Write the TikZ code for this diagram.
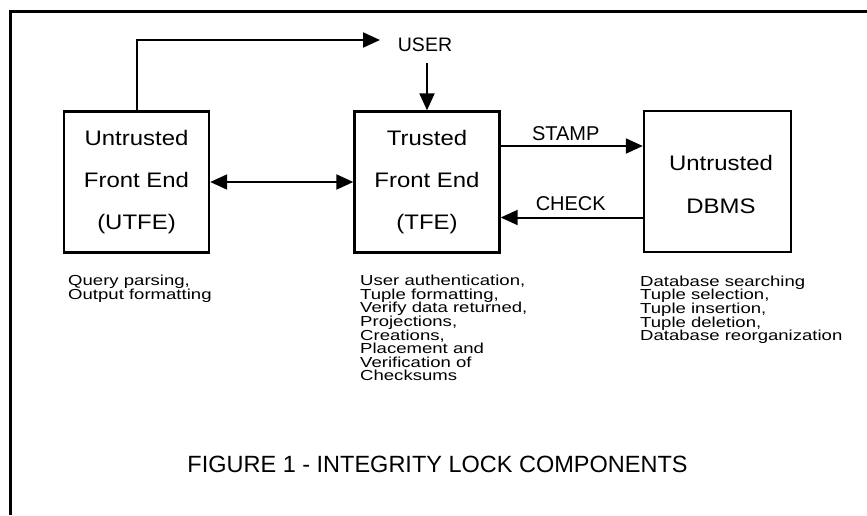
\documentclass[tikz,border=0pt]{standalone}
\usepackage{fontspec}
\setmainfont{Liberation Sans}
\newfontfamily\boxfont[FakeStretch=1.14]{Liberation Sans}
\newfontfamily\notefont[FakeStretch=1.28]{Liberation Sans}
\usetikzlibrary{arrows.meta}
\lineskiplimit=-100pt
\tikzset{
  blk/.style={draw=black, line width=2.4pt, minimum width=145pt, minimum height=141pt,
    inner sep=0pt, align=center, font=\boxfont\fontsize{21}{42}\selectfont},
  arr/.style={line width=2pt, -{Triangle[length=17pt,width=15pt]}},
  biarr/.style={line width=2pt, {Triangle[length=17pt,width=15pt]}-{Triangle[length=17pt,width=15pt]}},
  lbl/.style={inner sep=0pt, font=\fontsize{20}{24}\selectfont},
  notes/.style={anchor=north west, inner sep=0pt, align=left,
    font=\notefont\fontsize{14.5}{13.6}\selectfont},
  frame/.style={line width=3pt}
}
\begin{document}
\begin{tikzpicture}[x=1pt, y=-1pt]
\useasboundingbox (0,0) rectangle (867,515);

% open frame: top and left edges only
\coordinate (ftl) at (10,11);
\coordinate (ftr) at (867,11);
\coordinate (fbl) at (10,515);
\draw[frame] (ftr) -- (ftl) -- (fbl);

% the three components
\node[blk] (utfe) at (136.5,182) {Untrusted\\Front End\\(UTFE)};
\node[blk] (tfe)  at (427,182)   {Trusted\\Front End\\(TFE)};
\node[blk, minimum width=147pt] (dbms) at (717.5,181.5) {};
\node[font=\boxfont\fontsize{21}{43}\selectfont, align=center, inner sep=0pt]
  (dbmstext) at (721,184) {Untrusted\\DBMS};

% the user
\node[lbl, font=\fontsize{19.5}{22}\selectfont, anchor=base] (user) at (425,51.7) {USER};
\coordinate (userin) at (380,40);

% connectors
\draw[arr] (utfe.north) |- (userin);
\draw[arr] (user.south -| tfe.north) ++(0,-11pt) -- (tfe.north);
\draw[biarr] (utfe.east) -- (tfe.west);
\draw[arr] ([yshift=36pt]tfe.east) -- ([yshift=36pt]tfe.east -| dbms.west)
  node[lbl, midway, above, yshift=4.5pt, xshift=-6pt] (stamp) {STAMP};
\draw[arr] ([yshift=-36pt]dbms.west) -- ([yshift=-36pt]dbms.west -| tfe.east)
  node[lbl, midway, above, yshift=6pt, xshift=-1pt] (check) {CHECK};

% duties of each component
\node[notes] (utfenotes) at (68,275) {Query parsing,\\Output formatting};
\node[notes] (tfenotes) at (360,275) {User authentication,\\Tuple formatting,\\Verify data returned,\\Projections,\\Creations,\\Placement and\\Verification of\\Checksums};
\node[notes] (dbmsnotes) at (640,275.5) {Database searching\\Tuple selection,\\Tuple insertion,\\Tuple deletion,\\Database reorganization};

% caption
\node[anchor=base, inner sep=0pt, font=\fontsize{23.5}{28}\selectfont] (caption)
  at (437.5,472) {FIGURE 1 - INTEGRITY LOCK COMPONENTS};
\end{tikzpicture}
\end{document}
